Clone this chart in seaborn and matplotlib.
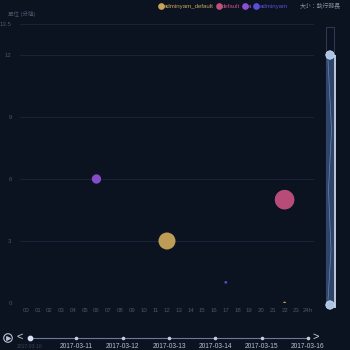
import matplotlib
matplotlib.use("Agg")
import matplotlib.pyplot as plt
import seaborn as sns
import pandas as pd
from matplotlib.patches import Rectangle, Circle

# ---------------- data ----------------
hours = ["00", "01", "02", "03", "04", "05", "06", "07", "08", "09", "10", "11",
         "12", "13", "14", "15", "16", "17", "18", "19", "20", "21", "22", "23", "24h"]
series_names = ["adminyam_default", "default", "a", "adminyam"]
series_colors = ["#c9a45a", "#c2507f", "#8e50d2", "#5a4fd8"]

point_series = ["adminyam_default", "adminyam_default", "default", "a", "adminyam"]
point_hour = [12, 22, 22, 6, 17]
point_value = [3, 0, 5, 6, 1]
point_duration = [15, 0.4, 20, 4.5, 0.4]

y_ticks = [0, 3, 6, 9, 12, 13.5]
y_tick_labels = ["0", "3", "6", "9", "12", "13.5"]

timeline_dates = ["2017-03-10", "2017-03-11", "2017-03-12", "2017-03-13",
                  "2017-03-14", "2017-03-15", "2017-03-16"]
current_index = 0

unit_label = "單位 (分鐘)"
size_label = "大小：執行時長"

# ---------------- style ----------------
BG = "#0b1220"
GRID = "#1a2335"
TICK = "#4b5468"

sns.set_theme(style="dark")
plt.rcParams['font.family'] = ['Liberation Sans', 'Noto Sans CJK TC']

W = H = 350
fig = plt.figure(figsize=(3.5, 3.5), dpi=100, facecolor=BG)

def fx(px):
    return px / W

def fy(py):
    return 1 - py / H

# main axes: x from 20 to 314 px, y from 24 to 303 px
ax = fig.add_axes([fx(20), fy(303), fx(314) - fx(20), fy(24) - fy(303)])
ax.set_facecolor(BG)

df = pd.DataFrame({
    "series": point_series,
    "hour": point_hour,
    "value": point_value,
    "duration": point_duration,
})
sns.scatterplot(data=df, x="hour", y="value", hue="series", hue_order=series_names,
                palette=dict(zip(series_names, series_colors)),
                size="duration", sizes=(0, 200), size_norm=(0, 20),
                linewidth=0, alpha=0.95, ax=ax, legend=False, zorder=3)

ax.set_xlim(-0.5, len(hours) - 0.5)
ax.set_ylim(0, 13.5)
ax.set_xticks(range(len(hours)))
ax.set_xticklabels(hours)
ax.set_yticks(y_ticks)
ax.set_yticklabels(y_tick_labels)
ax.tick_params(axis="x", colors=TICK, labelsize=4.4, length=0, pad=3.5)
ax.tick_params(axis="y", colors=TICK, labelsize=4.4, length=0, pad=6)
ax.set_xlabel("")
ax.set_ylabel("")
ax.grid(False)
for yv in y_ticks:
    ax.axhline(yv, color=GRID, lw=0.8, zorder=1)
for s in ax.spines.values():
    s.set_visible(False)

# unit label
fig.text(fx(8), fy(14), unit_label, color=TICK, fontsize=4.0, va="center", ha="left")

# legend
handles = [plt.Line2D([], [], marker="o", ls="", color=c, markersize=3.8)
           for c in series_colors]
leg = fig.legend(handles, series_names, loc="center left",
                 bbox_to_anchor=(fx(158), fy(6)), ncol=4, frameon=False,
                 fontsize=4.4, handletextpad=0.0, columnspacing=0.3,
                 handlelength=1.0, borderpad=0, borderaxespad=0)
for t, c in zip(leg.get_texts(), series_colors):
    t.set_color(c)
fig.text(fx(300), fy(6), size_label, color="#8a93a6", fontsize=4.2,
         va="center", ha="left")

# ---------------- vertical data zoom on the right ----------------
axz = fig.add_axes([fx(322), fy(310), fx(338) - fx(322), fy(24) - fy(310)])
axz.set_xlim(322, 338)
axz.set_ylim(310, 24)
axz.axis("off")
axz.add_patch(Rectangle((326, 27), 7.5, 280, fill=False, ec="#2e3850", lw=0.8))
axz.add_patch(Rectangle((326, 55), 7.5, 250, fc="#344a72", ec="none", alpha=0.9))
axz.plot([328, 331.5, 328.5, 331, 328], [60, 130, 190, 250, 300], color="#6c86b3", lw=0.5)
axz.add_patch(Rectangle((334, 55), 1.6, 253, fc="#b9c4d6", ec="none"))
for yy in (55, 305):
    axz.add_patch(Circle((330, yy), 4.2, fc="#a9c3e6", ec="#d8e4f4", lw=0.5, zorder=5))

# ---------------- timeline at bottom ----------------
axt = fig.add_axes([0, 0, 1, fy(326)])
step = 46.33
axt.set_xlim(-30 / step, (W - 30) / step)
axt.set_ylim(1, 0)
axt.axis("off")
n = len(timeline_dates)
ty = 0.5
axt.plot([0, n - 1], [ty, ty], color="#6b7a99", lw=0.8, zorder=1)
for i, d in enumerate(timeline_dates):
    if i == current_index:
        axt.scatter([i], [ty], s=10, color="#d6e2f5", zorder=3)
        axt.text(i, ty + 0.35, d, color="#3c4558", fontsize=3.6, ha="center", va="center")
    else:
        axt.scatter([i], [ty], s=2.5, color="#c3cde0", zorder=3)
        axt.text(i, ty + 0.35, d, color="#b8c2d6", fontsize=4.8, ha="center", va="center")
# play button and arrows
axt.scatter([-22 / step], [ty - 0.0], s=38, facecolors="none", edgecolors="#b8c2d6", lw=0.8)
axt.scatter([-21.5 / step], [ty], s=6, marker=">", color="#b8c2d6")
axt.text(-10 / step, ty - 0.05, "<", color="#d0d8e6", fontsize=8, ha="center", va="center")
axt.text(286 / step, ty - 0.05, ">", color="#d0d8e6", fontsize=8, ha="center", va="center")

fig.savefig("out.png", dpi=100, facecolor=BG)
